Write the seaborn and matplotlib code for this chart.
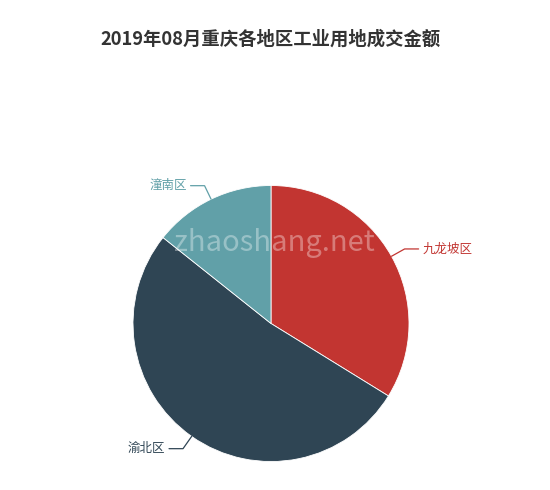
import matplotlib
matplotlib.use("Agg")
import matplotlib.pyplot as plt
import seaborn as sns
import numpy as np

sns.set_theme(style="white")
plt.rcParams['font.family'] = ['Noto Sans CJK SC', 'DejaVu Sans']

# Data (shares)
districts = ["九龙坡区", "渝北区", "潼南区"]
values = [33.8, 51.9, 14.3]
colors = ["#c23531", "#2f4554", "#61a0a8"]
title = "2019年08月重庆各地区工业用地成交金额"

W, H = 550, 490
fig = plt.figure(figsize=(W / 100, H / 100), dpi=100)
fig.patch.set_facecolor("white")
ax = fig.add_axes([0, 0, 1, 1])
ax.set_xlim(0, W)
ax.set_ylim(0, H)
ax.set_aspect("equal")
ax.axis("off")

cx, cy, r = 271, H - 323.5, 138
wedges, _ = ax.pie(values, colors=colors, startangle=90, counterclock=False,
                   center=(cx, cy), radius=r, frame=True,
                   wedgeprops=dict(edgecolor="white", linewidth=0.6))
ax.set_xlim(0, W)
ax.set_ylim(0, H)
ax.axis("off")

for w, name, col in zip(wedges, districts, colors):
    mid = np.deg2rad((w.theta1 + w.theta2) / 2)
    dx, dy = np.cos(mid), np.sin(mid)
    p0 = (cx + r * dx, cy + r * dy)
    p1 = (cx + (r + 15) * dx, cy + (r + 15) * dy)
    side = 1 if dx >= 0 else -1
    p2 = (p1[0] + side * 14, p1[1])
    ax.plot([p0[0], p1[0], p2[0]], [p0[1], p1[1], p2[1]], color=col, lw=0.9)
    ax.text(p2[0] + side * 4, p2[1], name, color=col, fontsize=9,
            ha="left" if side > 0 else "right", va="center")

ax.text(W / 2 - 4, H - 39, title, ha="center", va="center", fontsize=13.2,
        fontweight="bold", color="#333333")

# watermark
ax.text(274, H - 243, "zhaoshang.net", ha="center", va="center", fontsize=21,
        color="white", alpha=0.35)

fig.savefig("out.png", dpi=100)
